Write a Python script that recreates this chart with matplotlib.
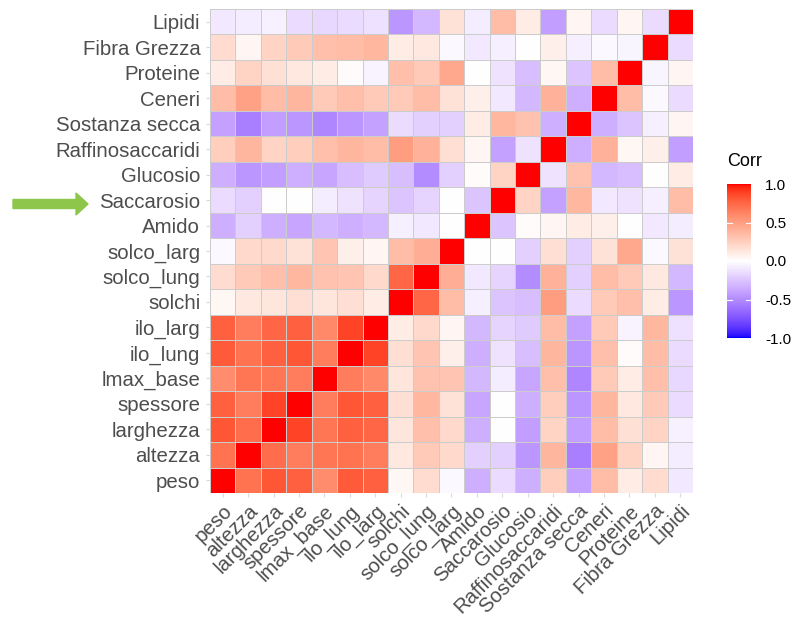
import numpy as np
import matplotlib
matplotlib.use('Agg')
import matplotlib.pyplot as plt
from matplotlib.colors import ListedColormap
from matplotlib.patches import FancyArrow
from matplotlib.transforms import IdentityTransform
from matplotlib.cm import ScalarMappable
from matplotlib.colors import Normalize

variables = ['peso', 'altezza', 'larghezza', 'spessore', 'lmax_base', 'ilo_lung',
             'ilo_larg', 'solchi', 'solco_lung', 'solco_larg', 'Amido', 'Saccarosio',
             'Glucosio', 'Raffinosaccaridi', 'Sostanza secca', 'Ceneri', 'Proteine',
             'Fibra Grezza', 'Lipidi']

# lower triangle of the correlation matrix, one row per variable (from altezza on)
lower = [
    [0.70],
    [0.82, 0.72],
    [0.78, 0.65, 0.88],
    [0.58, 0.68, 0.68, 0.65],
    [0.80, 0.70, 0.78, 0.82, 0.65],
    [0.78, 0.65, 0.75, 0.78, 0.60, 0.88],
    [0.04, 0.12, 0.13, 0.17, 0.13, 0.17, 0.10],
    [0.18, 0.28, 0.33, 0.37, 0.32, 0.30, 0.20, 0.75],
    [-0.03, 0.20, 0.20, 0.15, 0.30, 0.08, 0.05, 0.35, 0.42],
    [-0.35, -0.20, -0.35, -0.38, -0.30, -0.35, -0.30, -0.07, -0.10, 0.00],
    [-0.15, -0.20, 0.00, 0.00, -0.08, -0.12, -0.18, -0.25, -0.18, 0.00, -0.25],
    [-0.35, -0.45, -0.42, -0.35, -0.38, -0.28, -0.22, -0.28, -0.50, -0.20, 0.02, 0.22],
    [0.25, 0.38, 0.22, 0.25, 0.33, 0.38, 0.35, 0.50, 0.40, 0.17, 0.05, -0.40, -0.12],
    [-0.40, -0.55, -0.42, -0.45, -0.52, -0.45, -0.40, -0.15, -0.20, -0.20, 0.10, 0.37, 0.32, -0.35],
    [0.35, 0.48, 0.35, 0.38, 0.28, 0.33, 0.28, 0.28, 0.35, 0.15, 0.08, -0.10, -0.30, 0.40, -0.35],
    [0.10, 0.22, 0.16, 0.12, 0.10, 0.02, -0.05, 0.33, 0.28, 0.45, 0.00, -0.12, -0.28, 0.04, -0.25, 0.35],
    [0.18, 0.05, 0.22, 0.28, 0.33, 0.35, 0.37, 0.10, 0.12, -0.03, -0.10, -0.07, 0.00, 0.08, -0.07, -0.03, -0.04],
    [-0.10, -0.08, -0.06, -0.15, -0.17, -0.15, -0.13, -0.45, -0.30, 0.15, -0.08, 0.35, 0.10, -0.42, 0.05, -0.15, 0.05, -0.15],
]

cbar_ticks = [-1.0, -0.5, 0.0, 0.5, 1.0]


def build_matrix(rows):
    n = len(rows) + 1
    m = np.eye(n)
    for i, row in enumerate(rows, start=1):
        for j, v in enumerate(row):
            m[i, j] = v
            m[j, i] = v
    return m


# --- colour scale like ggplot's gradient2 (interpolated in Lab space) ---
WHITE = np.array([0.95047, 1.0, 1.08883])
M = np.array([[0.4124, 0.3576, 0.1805],
              [0.2126, 0.7152, 0.0722],
              [0.0193, 0.1192, 0.9505]])


def rgb_to_lab(rgb):
    c = np.asarray(rgb, float)
    lin = np.where(c <= 0.04045, c / 12.92, ((c + 0.055) / 1.055) ** 2.4)
    xyz = M @ lin / WHITE
    f = np.where(xyz > 0.008856, np.cbrt(xyz), 7.787 * xyz + 16 / 116)
    return np.array([116 * f[1] - 16, 500 * (f[0] - f[1]), 200 * (f[1] - f[2])])


def lab_to_rgb(lab):
    L, a, b = lab
    fy = (L + 16) / 116
    fx = fy + a / 500
    fz = fy - b / 200
    f = np.array([fx, fy, fz])
    xyz = np.where(f ** 3 > 0.008856, f ** 3, (f - 16 / 116) / 7.787) * WHITE
    lin = np.linalg.solve(M, xyz)
    lin = np.clip(lin, 0, 1)
    c = np.where(lin <= 0.0031308, 12.92 * lin, 1.055 * lin ** (1 / 2.4) - 0.055)
    return np.clip(c, 0, 1)


def gradient2(low, mid, high, n=256):
    lo, mi, hi = rgb_to_lab(low), rgb_to_lab(mid), rgb_to_lab(high)
    cols = []
    for t in np.linspace(-1, 1, n):
        if t < 0:
            lab = mi + (lo - mi) * (-t)
        else:
            lab = mi + (hi - mi) * t
        cols.append(lab_to_rgb(lab))
    return ListedColormap(cols)


cmap = gradient2([0, 0, 1], [1, 1, 1], [1, 0, 0])
corr = build_matrix(lower)
n = len(variables)

plt.rcParams['font.family'] = ['Liberation Sans', 'DejaVu Sans']

W, H = 793, 619
fig = plt.figure(figsize=(W / 100, H / 100), dpi=100)
ax = fig.add_axes([210 / W, (H - 493) / H, 483 / W, 484 / H])

ax.pcolormesh(np.arange(n + 1), np.arange(n + 1), corr, cmap=cmap, vmin=-1, vmax=1,
              edgecolors='#CCCCCC', linewidth=0.6)
ax.set_xlim(0, n)
ax.set_ylim(0, n)
ax.set_xticks(np.arange(n) + 0.5)
ax.set_yticks(np.arange(n) + 0.5)
ax.set_xticklabels(variables, rotation=45, ha='right', va='top', rotation_mode='anchor',
                   fontsize=14.7, color='#4D4D4D')
ax.set_yticklabels(variables, fontsize=14.7, color='#4D4D4D')
ax.tick_params(axis='y', length=3, width=0.8, color='#D9D9D9', pad=4)
ax.tick_params(axis='x', length=3, width=0.8, color='#D9D9D9', pad=3)
for s in ax.spines.values():
    s.set_visible(False)

# colour bar
cax = fig.add_axes([727 / W, (H - 338) / H, 24 / W, 154 / H])
cb = fig.colorbar(ScalarMappable(norm=Normalize(-1, 1), cmap=cmap), cax=cax, ticks=cbar_ticks)
cb.outline.set_visible(False)
cb.ax.set_yticklabels([f'{t:.1f}' for t in cbar_ticks], fontsize=11, color='black')
cb.ax.tick_params(length=0, pad=10)
for t in cbar_ticks[1:-1]:
    cax.plot([0, 0.2], [t, t], color='white', lw=0.8)
    cax.plot([0.8, 1.0], [t, t], color='white', lw=0.8)
fig.text(727 / W, (H - 161) / H, 'Corr', fontsize=13, ha='left', va='center')

# green arrow pointing at Saccarosio
fig.patches.append(FancyArrow(13, H - 204, 75, 0, width=9, head_width=22, head_length=12,
                              length_includes_head=True, color='#8DC64B',
                              transform=IdentityTransform()))

fig.savefig('out.png', dpi=100)
